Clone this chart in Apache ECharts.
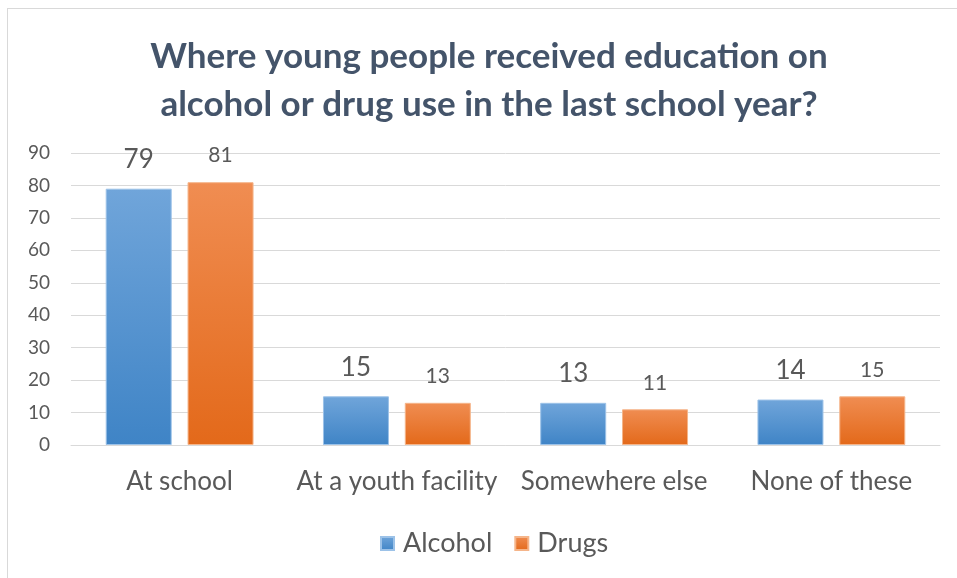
<!DOCTYPE html>
<html>
<head>
<meta charset="utf-8">
<style>
  html, body { margin: 0; padding: 0; background: #fff; }
  #frame { position: absolute; left: 7px; top: 8px; width: 960px; height: 580px; border: 1px solid #d9d9d9; box-sizing: border-box; }
  #chart { position: absolute; left: 0; top: 0; width: 957px; height: 578px; }
</style>
<script src="https://cdn.jsdelivr.net/npm/echarts@6/dist/echarts.min.js"></script>
</head>
<body>
<div id="frame"></div>
<div id="chart"></div>
<script>
const categories = ['At school', 'At a youth facility', 'Somewhere else', 'None of these'];
const alcohol = [79, 15, 13, 14];
const drugs = [81, 13, 11, 15];
const yTicks = [0, 10, 20, 30, 40, 50, 60, 70, 80, 90];

const font = 'Lato, "Open Sans", sans-serif';
const textColor = '#595959';

const chart = echarts.init(document.getElementById('chart'), null, { renderer: 'canvas' });

function grad(top, bottom) {
  return new echarts.graphic.LinearGradient(0, 0, 0, 1, [
    { offset: 0, color: top },
    { offset: 1, color: bottom }
  ]);
}

chart.setOption({
  backgroundColor: 'transparent',
  animation: false,
  color: ['#5b9bd5', '#ed7d31'],
  title: {
    text: 'Where young people received education on\nalcohol or drug use in the last school year?',
    left: 484,
    textAlign: 'center',
    top: 28,
    textStyle: {
      fontFamily: font,
      fontWeight: 'bold',
      fontSize: 35,
      lineHeight: 48,
      color: '#44546a'
    }
  },
  legend: {
    bottom: 16,
    left: 375,
    itemWidth: 13,
    itemHeight: 13,
    itemGap: 22,
    icon: 'rect',
    textStyle: { fontFamily: font, fontSize: 27, color: textColor, padding: [0, 0, 0, 4] },
    data: ['Alcohol', 'Drugs']
  },
  grid: { left: 71, right: 17, top: 153, bottom: 133, containLabel: false },
  xAxis: {
    type: 'category',
    data: categories,
    axisLine: { show: true, lineStyle: { color: '#d9d9d9', width: 1 } },
    axisTick: { show: false },
    axisLabel: { interval: 0, fontFamily: font, fontSize: 26, color: textColor, margin: 24 }
  },
  yAxis: {
    type: 'value',
    min: yTicks[0],
    max: yTicks[yTicks.length - 1],
    interval: 10,
    axisLine: { show: false },
    axisTick: { show: false },
    splitLine: { lineStyle: { color: '#d9d9d9', width: 1 } },
    axisLabel: { fontFamily: font, fontSize: 19, color: textColor, margin: 21, align: 'right' }
  },
  series: [
    {
      name: 'Alcohol',
      type: 'bar',
      data: alcohol,
      barWidth: 66,
      barGap: '24%',
      itemStyle: { color: grad('#70a5da', '#3f84c6'), borderColor: '#9cc2e8', borderWidth: 1 },
      label: { show: true, position: 'top', distance: 16, fontFamily: font, fontSize: 26, color: textColor }
    },
    {
      name: 'Drugs',
      type: 'bar',
      data: drugs,
      barWidth: 66,
      itemStyle: { color: grad('#f08d52', '#e3691a'), borderColor: '#f5b58a', borderWidth: 1 },
      label: { show: true, position: 'top', distance: 16, fontFamily: font, fontSize: 21, color: textColor }
    }
  ]
});
</script>
</body>
</html>
